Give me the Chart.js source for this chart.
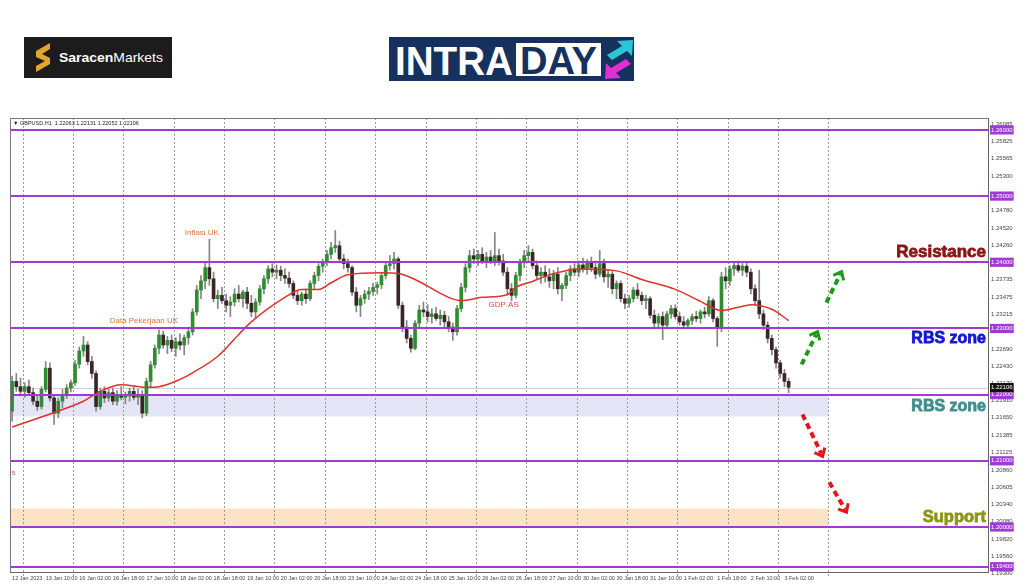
<!DOCTYPE html>
<html>
<head>
<meta charset="utf-8">
<script src="https://cdn.jsdelivr.net/npm/chart.js@4/dist/chart.umd.min.js"></script>
<style>
  html, body { margin: 0; padding: 0; background: #fff; width: 1024px; height: 587px; overflow: hidden; }
  #wrap { position: relative; width: 1024px; height: 587px; }
  #chart { position: absolute; left: 0; top: 0; }
  .logo { position: absolute; }
</style>
</head>
<body>
<div id="wrap">
  <canvas id="chart" width="1024" height="587"></canvas>

  <svg class="logo" style="left:24px;top:37px" width="148" height="41">
    <rect width="148" height="41" fill="#1c1c1c"/>
    <path d="M26 6 L12 14 L12 20 L21 24 L12 29 L12 35 L26 27 L26 21 L18 17 L26 12 Z" fill="#e2a52c"/>
    <text x="35" y="25" font-family="Liberation Sans, Arial, sans-serif" font-size="13" fill="#fff" textLength="104" lengthAdjust="spacingAndGlyphs"><tspan font-weight="bold">Saracen</tspan><tspan>Markets</tspan></text>
  </svg>

  <svg class="logo" style="left:389px;top:37px" width="245" height="44">
    <rect width="245" height="44" fill="#16315d"/>
    <text x="6" y="38" font-family="Liberation Sans, Arial, sans-serif" font-weight="bold" font-size="40" fill="#fff" textLength="118" lengthAdjust="spacingAndGlyphs">INTRA</text>
    <rect x="127" y="6" width="85" height="33" fill="#fff"/>
    <text x="131" y="37" font-family="Liberation Sans, Arial, sans-serif" font-weight="bold" font-size="38" fill="#16315d" textLength="77" lengthAdjust="spacingAndGlyphs">DAY</text>
    <polygon points="244,3 228,4 233,9 218,18 223,23 238,14 243,19" fill="#2bc6d6"/>
    <polygon points="216,42 232,41 227,36 242,27 237,22 222,31 217,26" fill="#e22fd2"/>
  </svg>
</div>

<script>
// x axis tick labels (every 8th two-hour candle)
const tickLabels = ['12 Jan 2023', '13 Jan 10:00', '16 Jan 02:00', '16 Jan 18:00', '17 Jan 10:00',
  '18 Jan 02:00', '18 Jan 18:00', '19 Jan 10:00', '20 Jan 02:00', '20 Jan 18:00', '23 Jan 10:00',
  '24 Jan 02:00', '24 Jan 18:00', '25 Jan 10:00', '26 Jan 02:00', '26 Jan 18:00', '27 Jan 10:00',
  '30 Jan 02:00', '30 Jan 18:00', '31 Jan 10:00', '1 Feb 02:00', '1 Feb 18:00', '2 Feb 10:00', '3 Feb 02:00']

// GBPUSD candles (2-hour steps)
const opens = [
  1.2175, 1.2220, 1.2212, 1.2205, 1.2212, 1.2203, 1.2190, 1.2182, 1.2208, 1.2240, 1.2195, 1.2172,
  1.2190, 1.2200, 1.2210, 1.2218, 1.2246, 1.2266, 1.2275, 1.2250, 1.2232, 1.2182, 1.2205, 1.2195,
  1.2203, 1.2190, 1.2200, 1.2196, 1.2198, 1.2205, 1.2196, 1.2200, 1.2172, 1.2220, 1.2245, 1.2270,
  1.2290, 1.2275, 1.2282, 1.2270, 1.2280, 1.2275, 1.2286, 1.2295, 1.2325, 1.2358, 1.2372, 1.2392,
  1.2375, 1.2345, 1.2350, 1.2342, 1.2335, 1.2340, 1.2352, 1.2345, 1.2355, 1.2338, 1.2325, 1.2340,
  1.2360, 1.2375, 1.2390, 1.2385, 1.2388, 1.2380, 1.2376, 1.2368, 1.2350, 1.2342, 1.2352, 1.2345,
  1.2368, 1.2380, 1.2394, 1.2400, 1.2412, 1.2422, 1.2425, 1.2405, 1.2398, 1.2392, 1.2355, 1.2335,
  1.2345, 1.2352, 1.2356, 1.2362, 1.2366, 1.2380, 1.2395, 1.2398, 1.2405, 1.2335, 1.2302, 1.2285,
  1.2270, 1.2308, 1.2328, 1.2325, 1.2318, 1.2322, 1.2315, 1.2320, 1.2310, 1.2302, 1.2295, 1.2330,
  1.2362, 1.2392, 1.2410, 1.2405, 1.2412, 1.2402, 1.2408, 1.2400, 1.2410, 1.2402, 1.2385, 1.2360,
  1.2350, 1.2380, 1.2400, 1.2410, 1.2415, 1.2395, 1.2380, 1.2385, 1.2378, 1.2372, 1.2382, 1.2360,
  1.2365, 1.2380, 1.2390, 1.2385, 1.2396, 1.2390, 1.2400, 1.2392, 1.2382, 1.2398, 1.2378, 1.2382,
  1.2360, 1.2368, 1.2345, 1.2338, 1.2345, 1.2358, 1.2350, 1.2342, 1.2345, 1.2320, 1.2308, 1.2318,
  1.2305, 1.2322, 1.2330, 1.2318, 1.2310, 1.2305, 1.2312, 1.2318, 1.2315, 1.2325, 1.2322, 1.2342,
  1.2315, 1.2300, 1.2378, 1.2372, 1.2390, 1.2395, 1.2388, 1.2394, 1.2385, 1.2360, 1.2342, 1.2322,
  1.2305, 1.2285, 1.2268, 1.2248, 1.2232, 1.2220]
const highs = [
  1.2228, 1.2232, 1.2225, 1.2218, 1.2222, 1.2210, 1.2198, 1.2212, 1.2250, 1.2248, 1.2200, 1.2195,
  1.2208, 1.2215, 1.2222, 1.2252, 1.2272, 1.2288, 1.2280, 1.2258, 1.2236, 1.2210, 1.2212, 1.2208,
  1.2210, 1.2206, 1.2212, 1.2204, 1.2210, 1.2212, 1.2208, 1.2206, 1.2225, 1.2250, 1.2275, 1.2298,
  1.2296, 1.2288, 1.2290, 1.2286, 1.2292, 1.2290, 1.2300, 1.2330, 1.2365, 1.2380, 1.2400, 1.2435,
  1.2385, 1.2358, 1.2362, 1.2352, 1.2348, 1.2360, 1.2365, 1.2358, 1.2362, 1.2350, 1.2345, 1.2365,
  1.2380, 1.2395, 1.2398, 1.2396, 1.2394, 1.2390, 1.2385, 1.2372, 1.2358, 1.2355, 1.2360, 1.2372,
  1.2385, 1.2398, 1.2405, 1.2418, 1.2430, 1.2448, 1.2432, 1.2412, 1.2405, 1.2395, 1.2362, 1.2350,
  1.2358, 1.2362, 1.2368, 1.2370, 1.2385, 1.2400, 1.2410, 1.2415, 1.2408, 1.2340, 1.2312, 1.2290,
  1.2312, 1.2335, 1.2340, 1.2336, 1.2330, 1.2332, 1.2328, 1.2326, 1.2318, 1.2308, 1.2335, 1.2368,
  1.2398, 1.2418, 1.2420, 1.2418, 1.2422, 1.2415, 1.2418, 1.2445, 1.2420, 1.2412, 1.2392, 1.2368,
  1.2385, 1.2405, 1.2418, 1.2425, 1.2420, 1.2402, 1.2392, 1.2395, 1.2390, 1.2388, 1.2392, 1.2368,
  1.2385, 1.2395, 1.2398, 1.2402, 1.2406, 1.2404, 1.2408, 1.2402, 1.2418, 1.2405, 1.2388, 1.2386,
  1.2372, 1.2372, 1.2352, 1.2350, 1.2362, 1.2368, 1.2355, 1.2350, 1.2348, 1.2328, 1.2322, 1.2325,
  1.2326, 1.2335, 1.2336, 1.2325, 1.2318, 1.2315, 1.2322, 1.2326, 1.2328, 1.2332, 1.2348, 1.2345,
  1.2318, 1.2385, 1.2392, 1.2395, 1.2400, 1.2402, 1.2398, 1.2400, 1.2390, 1.2366, 1.2388, 1.2328,
  1.2310, 1.2290, 1.2272, 1.2252, 1.2238, 1.2225]
const lows = [
  1.2160, 1.2205, 1.2198, 1.2196, 1.2200, 1.2185, 1.2176, 1.2178, 1.2204, 1.2190, 1.2155, 1.2165,
  1.2180, 1.2194, 1.2204, 1.2214, 1.2240, 1.2258, 1.2245, 1.2225, 1.2175, 1.2178, 1.2188, 1.2190,
  1.2185, 1.2184, 1.2192, 1.2186, 1.2190, 1.2192, 1.2185, 1.2165, 1.2168, 1.2212, 1.2240, 1.2262,
  1.2270, 1.2262, 1.2265, 1.2258, 1.2268, 1.2260, 1.2276, 1.2290, 1.2320, 1.2345, 1.2360, 1.2365,
  1.2340, 1.2330, 1.2338, 1.2325, 1.2318, 1.2334, 1.2340, 1.2332, 1.2330, 1.2318, 1.2315, 1.2335,
  1.2352, 1.2368, 1.2378, 1.2375, 1.2372, 1.2368, 1.2362, 1.2345, 1.2336, 1.2335, 1.2338, 1.2342,
  1.2360, 1.2372, 1.2385, 1.2395, 1.2405, 1.2415, 1.2400, 1.2390, 1.2385, 1.2350, 1.2325, 1.2318,
  1.2338, 1.2344, 1.2350, 1.2352, 1.2360, 1.2375, 1.2388, 1.2390, 1.2330, 1.2295, 1.2278, 1.2264,
  1.2268, 1.2300, 1.2318, 1.2310, 1.2308, 1.2312, 1.2305, 1.2300, 1.2295, 1.2282, 1.2290, 1.2325,
  1.2355, 1.2385, 1.2398, 1.2395, 1.2398, 1.2392, 1.2398, 1.2395, 1.2396, 1.2380, 1.2352, 1.2342,
  1.2346, 1.2372, 1.2392, 1.2402, 1.2390, 1.2375, 1.2368, 1.2370, 1.2362, 1.2360, 1.2352, 1.2342,
  1.2360, 1.2372, 1.2380, 1.2378, 1.2385, 1.2382, 1.2386, 1.2375, 1.2378, 1.2370, 1.2362, 1.2352,
  1.2345, 1.2340, 1.2330, 1.2332, 1.2340, 1.2345, 1.2336, 1.2330, 1.2315, 1.2302, 1.2300, 1.2283,
  1.2300, 1.2315, 1.2314, 1.2305, 1.2300, 1.2300, 1.2306, 1.2310, 1.2308, 1.2316, 1.2318, 1.2310,
  1.2273, 1.2295, 1.2360, 1.2365, 1.2380, 1.2385, 1.2380, 1.2378, 1.2352, 1.2335, 1.2315, 1.2298,
  1.2278, 1.2260, 1.2240, 1.2225, 1.2212, 1.2203]
const closes = [
  1.2220, 1.2212, 1.2205, 1.2212, 1.2203, 1.2190, 1.2182, 1.2208, 1.2240, 1.2195, 1.2172, 1.2190,
  1.2200, 1.2210, 1.2218, 1.2246, 1.2266, 1.2275, 1.2250, 1.2232, 1.2182, 1.2205, 1.2195, 1.2203,
  1.2190, 1.2200, 1.2196, 1.2198, 1.2205, 1.2196, 1.2200, 1.2172, 1.2220, 1.2245, 1.2270, 1.2290,
  1.2275, 1.2282, 1.2270, 1.2280, 1.2275, 1.2286, 1.2295, 1.2325, 1.2358, 1.2372, 1.2392, 1.2375,
  1.2345, 1.2350, 1.2342, 1.2335, 1.2340, 1.2352, 1.2345, 1.2355, 1.2338, 1.2325, 1.2340, 1.2360,
  1.2375, 1.2390, 1.2385, 1.2388, 1.2380, 1.2376, 1.2368, 1.2350, 1.2342, 1.2352, 1.2345, 1.2368,
  1.2380, 1.2394, 1.2400, 1.2412, 1.2422, 1.2425, 1.2405, 1.2398, 1.2392, 1.2355, 1.2335, 1.2345,
  1.2352, 1.2356, 1.2362, 1.2366, 1.2380, 1.2395, 1.2398, 1.2405, 1.2335, 1.2302, 1.2285, 1.2270,
  1.2308, 1.2328, 1.2325, 1.2318, 1.2322, 1.2315, 1.2320, 1.2310, 1.2302, 1.2295, 1.2330, 1.2362,
  1.2392, 1.2410, 1.2405, 1.2412, 1.2402, 1.2408, 1.2400, 1.2410, 1.2402, 1.2385, 1.2360, 1.2350,
  1.2380, 1.2400, 1.2410, 1.2415, 1.2395, 1.2380, 1.2385, 1.2378, 1.2372, 1.2382, 1.2360, 1.2365,
  1.2380, 1.2390, 1.2385, 1.2396, 1.2390, 1.2400, 1.2392, 1.2382, 1.2398, 1.2378, 1.2382, 1.2360,
  1.2368, 1.2345, 1.2338, 1.2345, 1.2358, 1.2350, 1.2342, 1.2345, 1.2320, 1.2308, 1.2318, 1.2305,
  1.2322, 1.2330, 1.2318, 1.2310, 1.2305, 1.2312, 1.2318, 1.2315, 1.2325, 1.2322, 1.2342, 1.2315,
  1.2300, 1.2378, 1.2372, 1.2390, 1.2395, 1.2388, 1.2394, 1.2385, 1.2360, 1.2342, 1.2322, 1.2305,
  1.2285, 1.2268, 1.2248, 1.2232, 1.2220, 1.2211]

// moving average (red line), read at these candle positions
const maIndex = [0, 10, 17, 21, 26, 32, 35, 40, 43, 49, 54, 57, 65, 69, 73, 76, 80, 88, 92, 96, 104, 107,
  112, 118, 120, 124, 128, 135, 144, 150, 158, 164, 169, 173, 176, 181, 185]
const maValues = [1.2151, 1.2173, 1.2190, 1.2205, 1.2215, 1.2211, 1.2212, 1.2223, 1.2233, 1.2258, 1.2291,
  1.2310, 1.2347, 1.2359, 1.2359, 1.2369, 1.2381, 1.2384, 1.2383, 1.2374, 1.2347, 1.2342, 1.2347, 1.2351,
  1.2362, 1.2371, 1.2381, 1.2390, 1.2387, 1.2374, 1.2359, 1.2341, 1.2327, 1.2332, 1.2336, 1.2329, 1.2312]

// price axis
const yTicks = [1.26085, 1.25825, 1.25565, 1.25300, 1.24780, 1.24520, 1.24260, 1.23735, 1.23475, 1.23215,
  1.22955, 1.22690, 1.22430, 1.22170, 1.21910, 1.21650, 1.21385, 1.21125, 1.20860, 1.20605, 1.20340,
  1.20080, 1.19820, 1.19560, 1.19300]
const levels = [1.26, 1.25, 1.24, 1.23, 1.22, 1.21, 1.20, 1.194]
const lastPrice = 1.22106
const zoneTop = [1.2200, 1.2028]
const zoneBottom = [1.2167, 1.2000]

const totalSlots = 233
const slots = Array.from({ length: totalSlots }, (_, i) => i)

const ma = new Array(closes.length).fill(null)
maIndex.forEach((k, j) => { ma[k] = maValues[j] })

const PURPLE = '#a03ad4'
const isTag = v => levels.includes(v) || v === lastPrice

function drawArrow (ctx, x1, y1, x2, y2, color) {
  const ang = Math.atan2(y2 - y1, x2 - x1)
  const head = 9
  ctx.save()
  ctx.strokeStyle = color
  ctx.lineWidth = 4
  ctx.setLineDash([6, 4])
  ctx.beginPath()
  ctx.moveTo(x1, y1)
  ctx.lineTo(x2 - Math.cos(ang) * 3, y2 - Math.sin(ang) * 3)
  ctx.stroke()
  ctx.setLineDash([])
  ctx.lineWidth = 3
  ctx.beginPath()
  ctx.moveTo(x2 + Math.cos(ang + Math.PI * 0.78) * head, y2 + Math.sin(ang + Math.PI * 0.78) * head)
  ctx.lineTo(x2, y2)
  ctx.lineTo(x2 + Math.cos(ang - Math.PI * 0.78) * head, y2 + Math.sin(ang - Math.PI * 0.78) * head)
  ctx.stroke()
  ctx.restore()
}

const overlay = {
  id: 'overlay',
  beforeDatasetsDraw (chart) {
    const { ctx, chartArea: a, scales: { x, y } } = chart
    const edge = x.getPixelForValue(194.5)
    ctx.save()
    // zones
    ctx.fillStyle = '#e5e5f8'
    ctx.fillRect(a.left, y.getPixelForValue(zoneTop[0]), edge - a.left, y.getPixelForValue(zoneBottom[0]) - y.getPixelForValue(zoneTop[0]))
    ctx.fillStyle = '#fde3c6'
    ctx.fillRect(a.left, y.getPixelForValue(zoneTop[1]), edge - a.left, y.getPixelForValue(zoneBottom[1]) - y.getPixelForValue(zoneTop[1]))
    // day separators
    ctx.strokeStyle = '#9a9a9a'
    ctx.lineWidth = 1
    ctx.setLineDash([2, 2])
    for (let d = 3; d <= 195; d += 12) {
      const px = Math.round(x.getPixelForValue(d - 0.5)) + 0.5
      ctx.beginPath()
      ctx.moveTo(px, a.top)
      ctx.lineTo(px, a.bottom + 4)
      ctx.stroke()
    }
    ctx.setLineDash([])
    // last price line
    ctx.strokeStyle = '#cfcfcf'
    const lp = Math.round(y.getPixelForValue(lastPrice)) + 0.5
    ctx.beginPath()
    ctx.moveTo(a.left, lp)
    ctx.lineTo(a.right, lp)
    ctx.stroke()
    ctx.restore()
  },
  afterDatasetsDraw (chart) {
    const { ctx, chartArea: a, scales: { x, y } } = chart
    ctx.save()
    // horizontal levels
    ctx.strokeStyle = PURPLE
    ctx.lineWidth = 2
    levels.forEach(v => {
      const py = Math.round(y.getPixelForValue(v))
      ctx.beginPath()
      ctx.moveTo(a.left, py)
      ctx.lineTo(a.right, py)
      ctx.stroke()
    })
    // frame
    ctx.strokeStyle = '#777'
    ctx.lineWidth = 1
    ctx.beginPath()
    ctx.moveTo(a.left + 0.5, a.bottom)
    ctx.lineTo(a.left + 0.5, a.top + 0.5)
    ctx.lineTo(a.right, a.top + 0.5)
    ctx.stroke()

    // arrows
    const P = (i, p) => [x.getPixelForValue(i), y.getPixelForValue(p)]
    const arrows = [
      [188.1, 1.22456, 191.9, 1.22953, '#1c9a1c'],
      [194.0, 1.23391, 197.6, 1.23858, '#1c9a1c'],
      [188.3, 1.21701, 193.1, 1.21068, '#e3161c'],
      [194.7, 1.20676, 198.8, 1.20223, '#e3161c']
    ]
    arrows.forEach(r => {
      const [x1, y1] = P(r[0], r[1])
      const [x2, y2] = P(r[2], r[3])
      drawArrow(ctx, x1, y1, x2, y2, r[4])
    })

    // event notes
    ctx.font = '8px "Liberation Sans", Arial, sans-serif'
    ctx.textAlign = 'center'
    ctx.textBaseline = 'middle'
    const notes = [
      ['Data Pekerjaan UK', 31.4, 1.2312, '#e8743b'],
      ['Inflasi UK', 45.2, 1.2445, '#e8743b'],
      ['GDP AS', 117.1, 1.2336, '#e5483f']
    ]
    notes.forEach(n => {
      ctx.fillStyle = n[3]
      ctx.fillText(n[0], x.getPixelForValue(n[1]), y.getPixelForValue(n[2]))
    })

    // right side labels
    ctx.textAlign = 'right'
    const side = [
      ['Resistance', 1.24145, '#8b1414', 17],
      ['RBS zone', 1.22848, '#1414d6', 16],
      ['RBS zone', 1.21822, '#3f8f8f', 16],
      ['Support', 1.20148, '#8c9614', 16.5]
    ]
    side.forEach(s => {
      ctx.font = 'bold ' + s[3] + 'px "Liberation Sans", Arial, sans-serif'
      ctx.fillStyle = s[2]
      ctx.strokeStyle = s[2]
      ctx.lineWidth = 0.8
      const py = y.getPixelForValue(s[1])
      ctx.fillText(s[0], a.right - 2, py)
      ctx.strokeText(s[0], a.right - 2, py)
    })

    // header
    ctx.textAlign = 'left'
    ctx.font = '5.5px "Liberation Sans", Arial, sans-serif'
    ctx.fillStyle = '#222'
    ctx.fillText('\u25BC GBPUSD,H1  1.22063 1.22131 1.22052 1.22106', a.left + 3, a.top + 5)
    ctx.fillStyle = '#e03030'
    ctx.font = '6px "Liberation Sans", Arial, sans-serif'
    ctx.fillText('5', a.left + 2, y.getPixelForValue(1.2081))
    ctx.restore()
  }
}

Chart.defaults.font.family = '"Liberation Sans", Arial, sans-serif'

new Chart(document.getElementById('chart'), {
  type: 'bar',
  data: {
    labels: slots,
    datasets: [
      {
        type: 'line',
        data: ma,
        borderColor: '#e0312b',
        borderWidth: 1.5,
        pointRadius: 0,
        spanGaps: true,
        cubicInterpolationMode: 'monotone',
        order: 0
      },
      {
        data: opens.map((o, i) => [o, closes[i]]),
        backgroundColor: closes.map((c, i) => c >= opens[i] ? '#2f8c2f' : '#3a2626'),
        barThickness: 3,
        minBarLength: 1,
        grouped: false,
        order: 1
      },
      {
        data: lows.map((l, i) => [l, highs[i]]),
        backgroundColor: '#858585',
        barThickness: 1,
        grouped: false,
        order: 2
      }
    ]
  },
  options: {
    responsive: false,
    animation: false,
    devicePixelRatio: 1,
    layout: { padding: { left: 10, top: 118, right: 0, bottom: 0 } },
    plugins: { legend: { display: false }, tooltip: { enabled: false } },
    scales: {
      x: {
        type: 'category',
        offset: true,
        grid: { display: false, drawTicks: false },
        border: { color: '#666' },
        afterFit: s => { s.height = 15 },
        ticks: {
          autoSkip: false,
          maxRotation: 0,
          minRotation: 0,
          align: 'start',
          padding: 3,
          color: '#444',
          font: { size: 5.5 },
          callback: (v, i) => (i % 8 === 0 && tickLabels[i / 8]) ? tickLabels[i / 8] : ''
        }
      },
      y: {
        position: 'right',
        min: 1.1932,
        max: 1.2618,
        grid: { display: false, drawTicks: false },
        border: { color: '#666' },
        afterFit: s => { s.width = 36 },
        afterBuildTicks: s => { s.ticks = yTicks.concat(levels, [lastPrice]).map(v => ({ value: v })) },
        ticks: {
          padding: 3,
          font: { size: 6 },
          color: c => isTag(c.tick.value) ? '#fff' : '#444',
          showLabelBackdrop: c => isTag(c.tick.value),
          backdropColor: c => c.tick.value === lastPrice ? '#111' : PURPLE,
          backdropPadding: 1,
          callback: v => v.toFixed(5)
        }
      }
    }
  },
  plugins: [overlay]
})
</script>
</body>
</html>
